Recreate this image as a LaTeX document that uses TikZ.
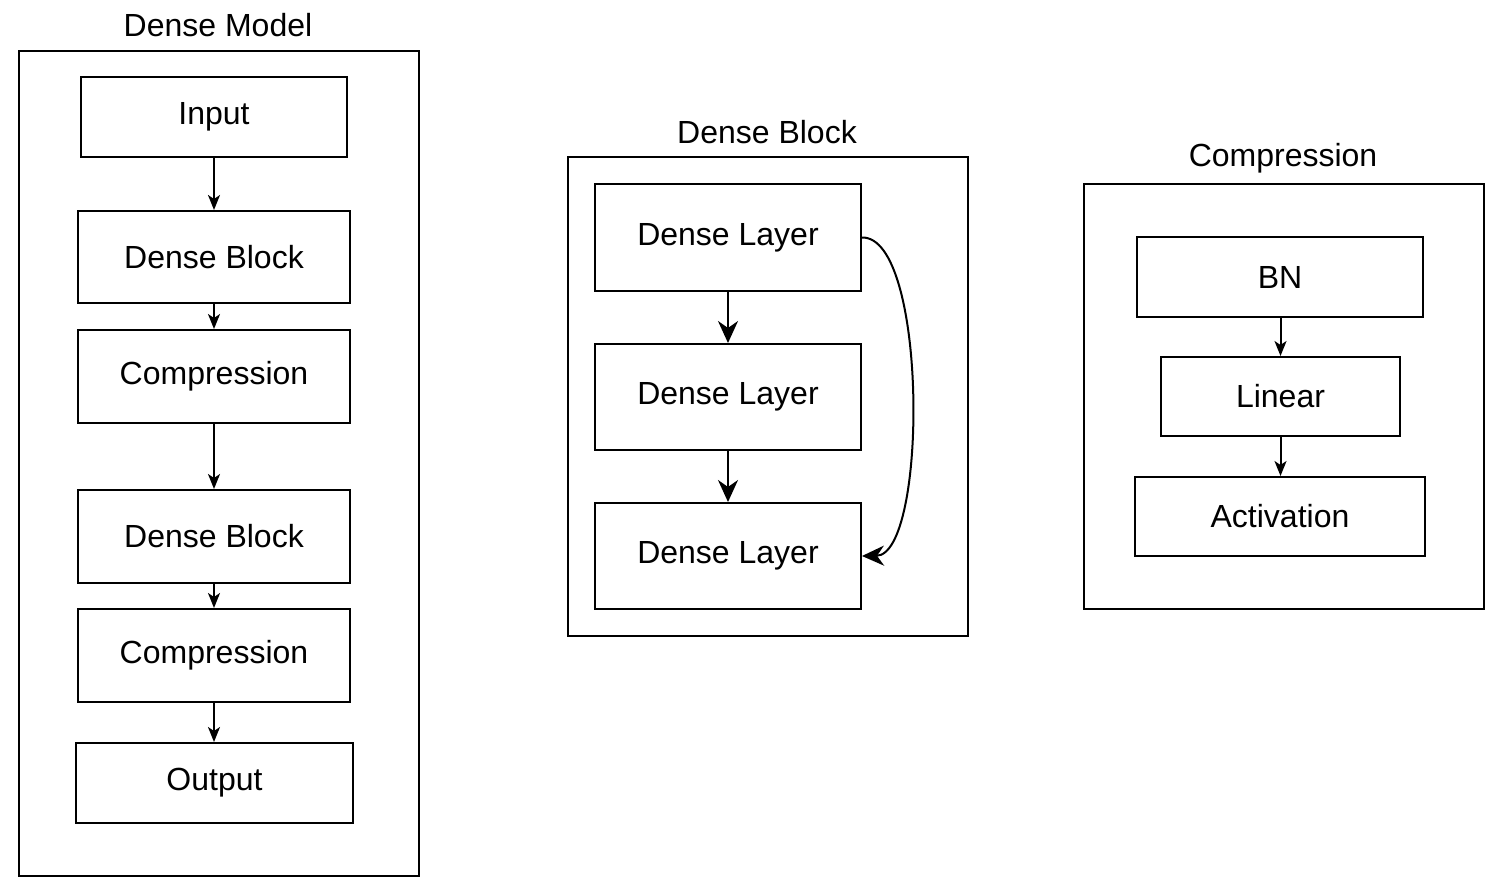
\documentclass[tikz,border=0pt]{standalone}
\usepackage{fontspec}
\setmainfont{Liberation Sans}
\usetikzlibrary{arrows.meta}
\begin{document}
\begin{tikzpicture}[x=1pt,y=-1pt,
  box/.style={draw,line width=2pt,inner sep=0pt,anchor=north west,font=\fontsize{32}{38}\selectfont},
  ttl/.style={font=\fontsize{32}{38}\selectfont,inner sep=0pt},
  sarr/.style={-{Stealth[length=15pt,width=12pt,inset=4pt]},line width=2pt},
  barr/.style={-{Stealth[length=22pt,width=20pt,inset=7pt]},line width=2pt}]
\useasboundingbox (0,0) rectangle (1491,880);
% Dense Model panel
\node[box,minimum width=400pt,minimum height=825pt] (pm) at (18,50) {};
\node[ttl] (tm) at (218,25) {Dense Model};
\node[box,minimum width=266pt,minimum height=80pt] (in) at (80,76) {Input};
\node[box,minimum width=272pt,minimum height=92pt] (db1) at (77,210) {Dense Block};
\node[box,minimum width=272pt,minimum height=93pt] (c1) at (77,329) {Compression};
\node[box,minimum width=272pt,minimum height=93pt] (db2) at (77,489) {Dense Block};
\node[box,minimum width=272pt,minimum height=93pt] (c2) at (77,608) {Compression};
\node[box,minimum width=277pt,minimum height=80pt] (out) at (75,742) {Output};
\draw[sarr] (in) -- (db1);
\draw[sarr] (db1) -- (c1);
\draw[sarr] (c1) -- (db2);
\draw[sarr] (db2) -- (c2);
\draw[sarr] (c2.south) -- (c2.south |- out.north);
% Dense Block panel
\node[box,minimum width=400pt,minimum height=479pt] (pb) at (567,156) {};
\node[ttl] (tb) at (767,132) {Dense Block};
\node[box,minimum width=266pt,minimum height=107pt] (l1) at (594,183) {Dense Layer};
\node[box,minimum width=266pt,minimum height=106pt] (l2) at (594,343) {Dense Layer};
\node[box,minimum width=266pt,minimum height=106pt] (l3) at (594,502) {Dense Layer};
\draw[barr] (l1) -- (l2);
\draw[barr] (l2) -- (l3);
\draw[barr] (l1.east) .. controls (928,236) and (928,555) .. (l3.east);
% Compression panel
\node[box,minimum width=400pt,minimum height=425pt] (pc) at (1083,183) {};
\node[ttl] (tc) at (1283,158) {Compression};
\node[box,minimum width=286pt,minimum height=80pt] (bn) at (1136,236) {BN};
\node[box,minimum width=239pt,minimum height=79pt] (lin) at (1160,356) {Linear};
\node[box,minimum width=290pt,minimum height=79pt] (act) at (1134,476) {Activation};
\draw[sarr] (bn.south -| lin) -- (lin);
\draw[sarr] (lin) -- (act.north -| lin);
\end{tikzpicture}
\end{document}
